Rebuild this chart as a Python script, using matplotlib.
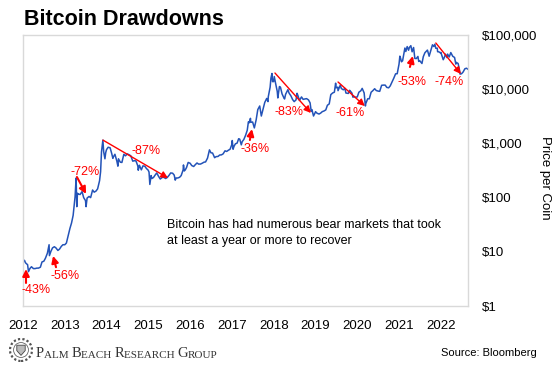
import numpy as np
import pandas as pd
import matplotlib
matplotlib.use('Agg')
import matplotlib.pyplot as plt
from matplotlib.patches import Circle, Polygon

# Bitcoin price (USD), roughly twice a month plus key highs/lows
btc_2012 = [("2012-01-02", 6.2), ("2012-01-09", 7.0), ("2012-01-15", 6.9), ("2012-01-22", 6.3),
            ("2012-02-01", 6.0), ("2012-02-10", 5.8), ("2012-02-18", 4.3), ("2012-03-01", 4.9),
            ("2012-03-15", 5.3), ("2012-04-01", 4.9), ("2012-04-15", 4.9), ("2012-05-01", 5.0),
            ("2012-05-15", 5.0), ("2012-06-01", 5.2), ("2012-06-15", 6.5), ("2012-07-01", 6.7),
            ("2012-07-15", 7.6), ("2012-08-01", 9.4), ("2012-08-16", 13.5), ("2012-08-19", 8.5),
            ("2012-09-01", 10.2), ("2012-09-15", 11.8), ("2012-10-01", 12.4), ("2012-10-15", 11.8),
            ("2012-11-01", 10.6), ("2012-11-15", 11.2), ("2012-12-01", 12.6), ("2012-12-15", 13.5)]
btc_2013 = [("2013-01-01", 13.5), ("2013-01-15", 14.5), ("2013-02-01", 20.5), ("2013-02-15", 27),
            ("2013-03-01", 34), ("2013-03-15", 47), ("2013-04-01", 104), ("2013-04-10", 230),
            ("2013-04-16", 68), ("2013-04-22", 120), ("2013-05-01", 116), ("2013-05-15", 114),
            ("2013-06-01", 129), ("2013-06-15", 100), ("2013-07-01", 88), ("2013-07-06", 68),
            ("2013-07-15", 98), ("2013-08-01", 105), ("2013-08-15", 100), ("2013-09-01", 138),
            ("2013-09-15", 126), ("2013-10-01", 132), ("2013-10-15", 145), ("2013-11-01", 205),
            ("2013-11-10", 300), ("2013-11-18", 700), ("2013-11-30", 1150), ("2013-12-07", 700),
            ("2013-12-18", 520), ("2013-12-25", 680)]
btc_2014 = [("2014-01-01", 770), ("2014-01-15", 850), ("2014-02-01", 830), ("2014-02-15", 650),
            ("2014-02-25", 530), ("2014-03-01", 560), ("2014-03-15", 630), ("2014-04-01", 470),
            ("2014-04-10", 380), ("2014-04-15", 520), ("2014-05-01", 450), ("2014-05-15", 445),
            ("2014-06-01", 630), ("2014-06-15", 590), ("2014-07-01", 640), ("2014-07-15", 620),
            ("2014-08-01", 590), ("2014-08-18", 470), ("2014-09-01", 480), ("2014-09-15", 475),
            ("2014-10-01", 385), ("2014-10-05", 320), ("2014-10-15", 395), ("2014-11-01", 325),
            ("2014-11-15", 385), ("2014-12-01", 380), ("2014-12-15", 345), ("2014-12-31", 320)]
btc_2015 = [("2015-01-07", 295), ("2015-01-14", 175), ("2015-01-25", 255), ("2015-02-01", 225),
            ("2015-02-15", 235), ("2015-03-01", 260), ("2015-03-15", 285), ("2015-04-01", 245),
            ("2015-04-15", 220), ("2015-05-01", 235), ("2015-05-15", 237), ("2015-06-01", 225),
            ("2015-06-15", 235), ("2015-07-01", 258), ("2015-07-15", 285), ("2015-08-01", 282),
            ("2015-08-15", 260), ("2015-08-24", 210), ("2015-09-01", 230), ("2015-09-15", 230),
            ("2015-10-01", 237), ("2015-10-15", 255), ("2015-11-01", 325), ("2015-11-04", 400),
            ("2015-11-11", 310), ("2015-11-20", 325), ("2015-12-01", 360), ("2015-12-15", 445),
            ("2015-12-31", 430)]
btc_2016 = [("2016-01-01", 430), ("2016-01-15", 390), ("2016-02-01", 375), ("2016-02-15", 405),
            ("2016-03-01", 435), ("2016-03-15", 415), ("2016-04-01", 416), ("2016-04-15", 430),
            ("2016-05-01", 450), ("2016-05-15", 455), ("2016-06-01", 535), ("2016-06-18", 760),
            ("2016-07-01", 670), ("2016-07-15", 665), ("2016-08-02", 545), ("2016-08-15", 570),
            ("2016-09-01", 575), ("2016-09-15", 610), ("2016-10-01", 615), ("2016-10-15", 640),
            ("2016-11-01", 730), ("2016-11-15", 710), ("2016-12-01", 750), ("2016-12-15", 780),
            ("2016-12-31", 960)]
btc_2017 = [("2017-01-04", 1130), ("2017-01-11", 780), ("2017-01-20", 890), ("2017-02-01", 985),
            ("2017-02-15", 1010), ("2017-03-01", 1220), ("2017-03-10", 1200), ("2017-03-24", 940),
            ("2017-04-01", 1080), ("2017-04-15", 1180), ("2017-05-01", 1420), ("2017-05-15", 1750),
            ("2017-05-25", 2500), ("2017-06-01", 2400), ("2017-06-12", 2900), ("2017-06-15", 2450),
            ("2017-07-01", 2480), ("2017-07-16", 1930), ("2017-08-01", 2730), ("2017-08-15", 4200),
            ("2017-09-01", 4900), ("2017-09-15", 3200), ("2017-10-01", 4400), ("2017-10-15", 5700),
            ("2017-11-01", 6750), ("2017-11-12", 5900), ("2017-11-15", 7300), ("2017-12-01", 10900),
            ("2017-12-08", 16000), ("2017-12-17", 19500), ("2017-12-22", 13800), ("2017-12-31", 13800)]
btc_2018 = [("2018-01-06", 17100), ("2018-01-15", 13600), ("2018-02-01", 9100), ("2018-02-06", 6900),
            ("2018-02-20", 11200), ("2018-03-01", 10900), ("2018-03-15", 8200), ("2018-04-01", 6850),
            ("2018-04-06", 6600), ("2018-04-15", 8050), ("2018-05-05", 9800), ("2018-05-15", 8500),
            ("2018-06-01", 7500), ("2018-06-15", 6450), ("2018-06-29", 5900), ("2018-07-15", 6350),
            ("2018-07-24", 8400), ("2018-08-01", 7600), ("2018-08-14", 6200), ("2018-09-01", 7200),
            ("2018-09-15", 6500), ("2018-10-01", 6600), ("2018-10-15", 6700), ("2018-11-01", 6350),
            ("2018-11-15", 5600), ("2018-11-25", 3900), ("2018-12-01", 4200), ("2018-12-15", 3200),
            ("2018-12-31", 3750)]
btc_2019 = [("2019-01-01", 3850), ("2019-01-15", 3600), ("2019-02-01", 3480), ("2019-02-15", 3620),
            ("2019-03-01", 3850), ("2019-03-15", 3950), ("2019-04-01", 4150), ("2019-04-15", 5050),
            ("2019-05-01", 5350), ("2019-05-15", 7950), ("2019-06-01", 8550), ("2019-06-15", 8800),
            ("2019-06-26", 12900), ("2019-07-01", 10600), ("2019-07-15", 10900), ("2019-07-17", 9400),
            ("2019-08-06", 11900), ("2019-08-15", 10300), ("2019-09-01", 9750), ("2019-09-15", 10350),
            ("2019-09-24", 8500), ("2019-10-15", 8350), ("2019-10-26", 9550), ("2019-11-01", 9250),
            ("2019-11-15", 8500), ("2019-11-25", 7100), ("2019-12-01", 7400), ("2019-12-15", 7100),
            ("2019-12-31", 7200)]
btc_2020 = [("2020-01-01", 7200), ("2020-01-15", 8800), ("2020-02-01", 9350), ("2020-02-13", 10350),
            ("2020-03-01", 8550), ("2020-03-12", 4900), ("2020-03-15", 5400), ("2020-04-01", 6650),
            ("2020-04-15", 6650), ("2020-05-01", 8800), ("2020-05-15", 9350), ("2020-06-01", 10200),
            ("2020-06-15", 9450), ("2020-07-01", 9230), ("2020-07-15", 9130), ("2020-08-01", 11800),
            ("2020-08-15", 11900), ("2020-09-01", 11900), ("2020-09-15", 10800), ("2020-10-01", 10600),
            ("2020-10-15", 11500), ("2020-11-01", 13750), ("2020-11-15", 15950), ("2020-12-01", 19200),
            ("2020-12-15", 19300), ("2020-12-31", 29000)]
btc_2021 = [("2021-01-08", 40700), ("2021-01-15", 36800), ("2021-01-22", 32000), ("2021-02-01", 33500),
            ("2021-02-15", 48700), ("2021-02-21", 57500), ("2021-03-01", 49600), ("2021-03-13", 61200),
            ("2021-03-25", 52300), ("2021-04-01", 58900), ("2021-04-14", 63500), ("2021-04-25", 49000),
            ("2021-05-08", 58800), ("2021-05-19", 37000), ("2021-06-01", 36700), ("2021-06-15", 40200),
            ("2021-06-22", 32500), ("2021-07-01", 33500), ("2021-07-20", 29800), ("2021-08-01", 39900),
            ("2021-08-15", 47100), ("2021-09-06", 52700), ("2021-09-21", 40600), ("2021-10-01", 48200),
            ("2021-10-20", 65900), ("2021-11-01", 61300), ("2021-11-10", 67500), ("2021-11-18", 56900),
            ("2021-12-01", 57200), ("2021-12-04", 49200), ("2021-12-15", 48900), ("2021-12-31", 46300)]
btc_2022 = [("2022-01-01", 47700), ("2022-01-22", 35000), ("2022-02-01", 38700), ("2022-02-10", 44300),
            ("2022-02-24", 38300), ("2022-03-01", 44400), ("2022-03-15", 39300), ("2022-03-29", 47400),
            ("2022-04-15", 40500), ("2022-05-01", 38500), ("2022-05-12", 29000), ("2022-05-15", 31300),
            ("2022-06-01", 29800), ("2022-06-13", 22500), ("2022-06-18", 19000), ("2022-07-01", 19300),
            ("2022-07-15", 20800), ("2022-07-30", 23800), ("2022-08-13", 24400), ("2022-08-24", 23500)]

years = list(range(2012, 2023))
ytick_values = [1, 10, 100, 1000, 10000, 100000]
ytick_labels = ['$1', '$10', '$100', '$1,000', '$10,000', '$100,000']

# peak-to-trough lines: label, label position, line start, line end  (decimal year, price)
drawdown_lines = [
    ("-87%", (2014.94, 724), (2013.914, 1150), (2015.47, 230)),
    ("-83%", (2018.36, 3800), (2018.03, 19900), (2018.89, 3640)),
    ("-61%", (2019.82, 3640), (2019.54, 13580), (2020.18, 4900)),
    ("-74%", (2022.19, 13580), (2021.88, 71200), (2022.48, 19100)),
]
# short arrows: label, label position, arrow tail, arrow tip
short_arrows = [
    ("-43%", (2012.31, 1.97), (2012.072, 2.66), (2012.072, 4.8)),
    ("-56%", (2013.0, 3.58), (2012.79, 5.2), (2012.72, 8.4)),
    ("-72%", (2013.48, 297), (2013.29, 240), (2013.51, 117)),
    ("-36%", (2017.55, 788), (2017.43, 1155), (2017.48, 1840)),
    ("-53%", (2021.31, 13580), (2021.26, 25700), (2021.33, 41000)),
]

series = btc_2012 + btc_2013 + btc_2014 + btc_2015 + btc_2016 + btc_2017 + \
    btc_2018 + btc_2019 + btc_2020 + btc_2021 + btc_2022
dates = pd.to_datetime([d for d, _ in series])
t = dates.year + (dates.dayofyear - 1) / 365.25
price = np.array([p for _, p in series])

plt.rcParams['font.family'] = ['Liberation Sans', 'DejaVu Sans']

W, H = 560, 367
fig = plt.figure(figsize=(W / 100, H / 100), dpi=100)
ax = fig.add_axes([23 / W, 1 - 306 / H, 445 / W, 271 / H])

ax.plot(t, price, color='#2353b8', lw=1.1)
ax.set_yscale('log')
ax.set_ylim(1, 100000)
ax.set_xlim(2012, 2022.65)

ax.set_xticks(years)
ax.set_xticklabels([str(y) for y in years], fontsize=9.5)
ax.set_yticks(ytick_values)
ax.set_yticklabels(ytick_labels, fontsize=9.5)
ax.yaxis.set_minor_locator(plt.NullLocator())
ax.yaxis.tick_right()
ax.tick_params(axis='both', length=0)
ax.tick_params(axis='x', pad=10)
ax.tick_params(axis='y', pad=10)
for s in ax.spines.values():
    s.set_color('#d9d9d9')
    s.set_linewidth(1)

red = '#ff0000'
for label, txt, p0, p1 in drawdown_lines:
    ax.annotate('', xy=p1, xytext=p0,
                arrowprops=dict(arrowstyle='-|>', color=red, lw=1.0, mutation_scale=10,
                                shrinkA=0, shrinkB=0))
    ax.text(txt[0], txt[1], label, color=red, fontsize=9, ha='center', va='center')
for label, txt, p0, p1 in short_arrows:
    ax.annotate('', xy=p1, xytext=p0,
                arrowprops=dict(arrowstyle='-|>', color=red, lw=1.5, mutation_scale=10,
                                shrinkA=0, shrinkB=0))
    ax.text(txt[0], txt[1], label, color=red, fontsize=9, ha='center', va='center')

fig.text(167 / W, 1 - 219 / H,
         "Bitcoin has had numerous bear markets that took\nat least a year or more to recover",
         fontsize=9, ha='left', va='top', linespacing=1.45)

# title, axis label, source
fig.text(24 / W, 1 - 25 / H, "Bitcoin Drawdowns", fontsize=15.5, fontweight='bold',
         ha='left', va='baseline')
fig.text(545 / W, 1 - 178 / H, "Price per Coin", fontsize=9.5, rotation=270,
         ha='center', va='center')
fig.text(537 / W, 1 - 356 / H, "Source: Bloomberg", fontsize=8, ha='right', va='baseline')

# Palm Beach Research Group seal and wordmark (small caps)
logo = fig.add_axes([9 / W, 1 - 362 / H, 24 / W, 24 / H])
logo.set_xlim(-1, 1)
logo.set_ylim(-1, 1)
logo.set_aspect('equal')
logo.axis('off')
logo.add_patch(Circle((0, 0), 0.92, fill=False, ec='#555555', lw=1.6, ls=(0, (1, 1))))
logo.add_patch(Circle((0, 0), 0.62, fill=False, ec='#666666', lw=0.6))
logo.add_patch(Polygon([(-0.35, 0.4), (0.35, 0.4), (0.35, -0.05), (0, -0.45), (-0.35, -0.05)],
                       closed=True, fc='#bbbbbb', ec='#444444', lw=0.6))

serif = ['Liberation Serif', 'DejaVu Serif']
grey = '#333333'
prev = ax.annotate("P", xy=(36 / W, 1 - 357 / H), xycoords='figure fraction', fontsize=10.5,
                   family=serif, color=grey, ha='left', va='baseline', annotation_clip=False)
parts = [("ALM ", 8), ("B", 10.5), ("EACH ", 8), ("R", 10.5), ("ESEARCH ", 8), ("G", 10.5), ("ROUP", 8)]
for s, fs in parts:
    prev = ax.annotate(s, xy=(1, 0), xycoords=prev, fontsize=fs, family=serif, color=grey,
                       ha='left', va='bottom', annotation_clip=False)

fig.savefig('out.png', dpi=100)
